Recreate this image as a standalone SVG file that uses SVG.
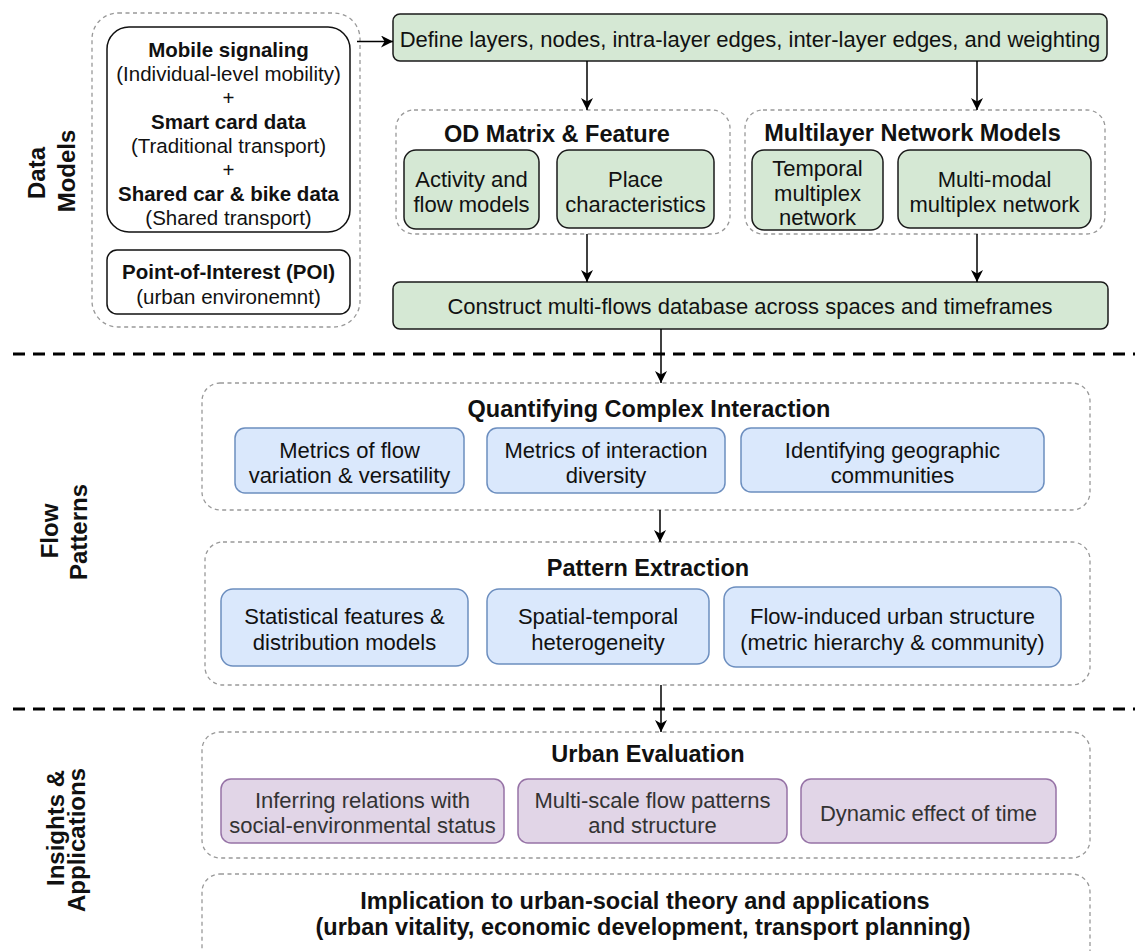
<svg xmlns="http://www.w3.org/2000/svg" width="1135" height="951" viewBox="0 0 1135 951">
<style>
text{font-family:"Liberation Sans",Arial,sans-serif;fill:#111;}
.t{font-size:22px;text-anchor:middle;}
.s{font-size:20.5px;text-anchor:middle;}
.sb{font-size:20.5px;text-anchor:middle;font-weight:bold;}
.h{font-size:23.5px;text-anchor:middle;font-weight:bold;}
.lab{font-size:24px;text-anchor:middle;font-weight:bold;}
.cont{fill:#fff;stroke:#999;stroke-width:1.3;stroke-dasharray:4 3.5;}
.wb{fill:#fff;stroke:#111;stroke-width:1.5;}
.g{fill:#d5e8d4;stroke:#1a1a1a;stroke-width:1.5;}
.b{fill:#dae8fc;stroke:#6c8ebf;stroke-width:1.5;}
.p{fill:#e1d5e7;stroke:#9673a6;stroke-width:1.5;}
.pt{fill:#333;}
.sep{stroke:#000;stroke-width:3;stroke-dasharray:12 8;fill:none;}
.c{stroke:#000;stroke-width:1.5;fill:none;marker-end:url(#ah);}
</style>
<defs>
<marker id="ah" viewBox="0 0 10 10" markerWidth="12" markerHeight="12" markerUnits="userSpaceOnUse" refX="10" refY="5" orient="auto">
<path d="M0,0 L10,5 L0,10 L3,5 Z" fill="#000"/>
</marker>
</defs>

<g id="labels">
<text class="lab" transform="translate(45,173) rotate(-90)">Data</text>
<text class="lab" transform="translate(75,171) rotate(-90)">Models</text>
<text class="lab" transform="translate(58,531) rotate(-90)">Flow</text>
<text class="lab" transform="translate(87,532) rotate(-90)">Patterns</text>
<text class="lab" transform="translate(64,828) rotate(-90)">Insights &amp;</text>
<text class="lab" transform="translate(85,840) rotate(-90)">Applications</text>
</g>

<g id="separators">
<line class="sep" x1="13" y1="354" x2="1135" y2="354"/>
<line class="sep" x1="13" y1="709" x2="1135" y2="709"/>
</g>

<!-- Top section -->
<g id="data-container">
<rect class="cont" x="92" y="13" width="268" height="314" rx="26"/>
</g>
<g id="mobile">
<rect class="wb" x="107" y="27" width="243" height="205" rx="22"/>
<text class="sb" x="228.5" y="57">Mobile signaling</text>
<text class="s" x="228.5" y="81">(Individual-level mobility)</text>
<text class="s" x="228.5" y="105">+</text>
<text class="sb" x="228.5" y="129">Smart card data</text>
<text class="s" x="228.5" y="153">(Traditional transport)</text>
<text class="s" x="228.5" y="176.5">+</text>
<text class="sb" x="228.5" y="200.5">Shared car &amp; bike data</text>
<text class="s" x="228.5" y="224.5">(Shared transport)</text>
</g>
<g id="poi">
<rect class="wb" x="107" y="250" width="243" height="64" rx="10"/>
<text class="sb" x="228.5" y="279">Point-of-Interest (POI)</text>
<text class="s" x="228.5" y="304">(urban environemnt)</text>
</g>

<g id="define">
<rect class="g" x="393" y="14" width="714" height="47" rx="7"/>
<text class="t" x="750" y="47">Define layers, nodes, intra-layer edges, inter-layer edges, and weighting</text>
</g>

<g id="od-matrix">
<rect class="cont" x="396" y="110" width="334" height="124" rx="18"/>
<text class="h" x="557" y="141.5">OD Matrix &amp; Feature</text>
</g>
<g id="activity">
<rect class="g" x="404" y="150" width="135" height="79" rx="12"/>
<text class="t" x="471.5" y="186.5">Activity and</text>
<text class="t" x="471.5" y="211.5">flow models</text>
</g>
<g id="place">
<rect class="g" x="557" y="150" width="157" height="78" rx="12"/>
<text class="t" x="635.5" y="186.5">Place</text>
<text class="t" x="635.5" y="211.5">characteristics</text>
</g>

<g id="multilayer">
<rect class="cont" x="745" y="110" width="360" height="124" rx="18"/>
<text class="h" x="912.5" y="140.5">Multilayer Network Models</text>
</g>
<g id="temporal">
<rect class="g" x="752" y="150" width="131" height="80" rx="12"/>
<text class="t" x="817.5" y="176">Temporal</text>
<text class="t" x="817.5" y="200.5">multiplex</text>
<text class="t" x="817.5" y="225">network</text>
</g>
<g id="multimodal">
<rect class="g" x="898" y="150" width="193" height="78" rx="12"/>
<text class="t" x="994.5" y="186.5">Multi-modal</text>
<text class="t" x="994.5" y="211.5">multiplex network</text>
</g>

<g id="construct">
<rect class="g" x="393" y="282" width="715" height="47" rx="7"/>
<text class="t" x="750" y="314">Construct multi-flows database across spaces and timeframes</text>
</g>

<!-- Middle section -->
<g id="quantifying">
<rect class="cont" x="202" y="383" width="888" height="127" rx="18"/>
<text class="h" x="649" y="416.5">Quantifying Complex Interaction</text>
</g>
<g id="metrics-flow">
<rect class="b" x="235" y="428" width="229" height="65" rx="10"/>
<text class="t" x="349.5" y="458">Metrics of flow</text>
<text class="t" x="349.5" y="483">variation &amp; versatility</text>
</g>
<g id="metrics-interaction">
<rect class="b" x="487" y="428" width="238" height="65" rx="10"/>
<text class="t" x="606" y="458">Metrics of interaction</text>
<text class="t" x="606" y="483">diversity</text>
</g>
<g id="identifying">
<rect class="b" x="741" y="428" width="303" height="64" rx="10"/>
<text class="t" x="892.5" y="458">Identifying geographic</text>
<text class="t" x="892.5" y="483">communities</text>
</g>

<g id="pattern">
<rect class="cont" x="205" y="542" width="885" height="143" rx="18"/>
<text class="h" x="648" y="575.5">Pattern Extraction</text>
</g>
<g id="statistical">
<rect class="b" x="221" y="589" width="247" height="77" rx="12"/>
<text class="t" x="344.5" y="624">Statistical features &amp;</text>
<text class="t" x="344.5" y="650">distribution models</text>
</g>
<g id="spatial">
<rect class="b" x="487" y="589" width="222" height="75" rx="12"/>
<text class="t" x="598" y="624">Spatial-temporal</text>
<text class="t" x="598" y="650">heterogeneity</text>
</g>
<g id="flow-induced">
<rect class="b" x="724" y="587" width="337" height="80" rx="12"/>
<text class="t" x="892.5" y="624">Flow-induced urban structure</text>
<text class="t" x="892.5" y="650">(metric hierarchy &amp; community)</text>
</g>

<!-- Bottom section -->
<g id="urban-evaluation">
<rect class="cont" x="202" y="732" width="888" height="126" rx="18"/>
<text class="h" x="648" y="761.5">Urban Evaluation</text>
</g>
<g id="inferring">
<rect class="p" x="221" y="779" width="283" height="64" rx="10"/>
<text class="t pt" x="362.5" y="808">Inferring relations with</text>
<text class="t pt" x="362.5" y="833">social-environmental status</text>
</g>
<g id="multiscale">
<rect class="p" x="518" y="779" width="269" height="64" rx="10"/>
<text class="t pt" x="652.5" y="808">Multi-scale flow patterns</text>
<text class="t pt" x="652.5" y="833">and structure</text>
</g>
<g id="dynamic">
<rect class="p" x="801" y="779" width="255" height="64" rx="10"/>
<text class="t pt" x="928.5" y="821">Dynamic effect of time</text>
</g>

<g id="implication">
<rect class="cont" x="202" y="874" width="888" height="100" rx="18"/>
<text class="h" x="645" y="909">Implication to urban-social theory and applications</text>
<text class="h" x="643" y="935">(urban vitality, economic development, transport planning)</text>
</g>

<g id="connectors">
<path class="c" d="M357,41.5 H393"/>
<path class="c" d="M587,61 V110"/>
<path class="c" d="M977,61 V110"/>
<path class="c" d="M587,234 V282"/>
<path class="c" d="M977,234 V282"/>
<path class="c" d="M661,329 V383"/>
<path class="c" d="M660,510 V542"/>
<path class="c" d="M661,685 V732"/>
</g>
</svg>
